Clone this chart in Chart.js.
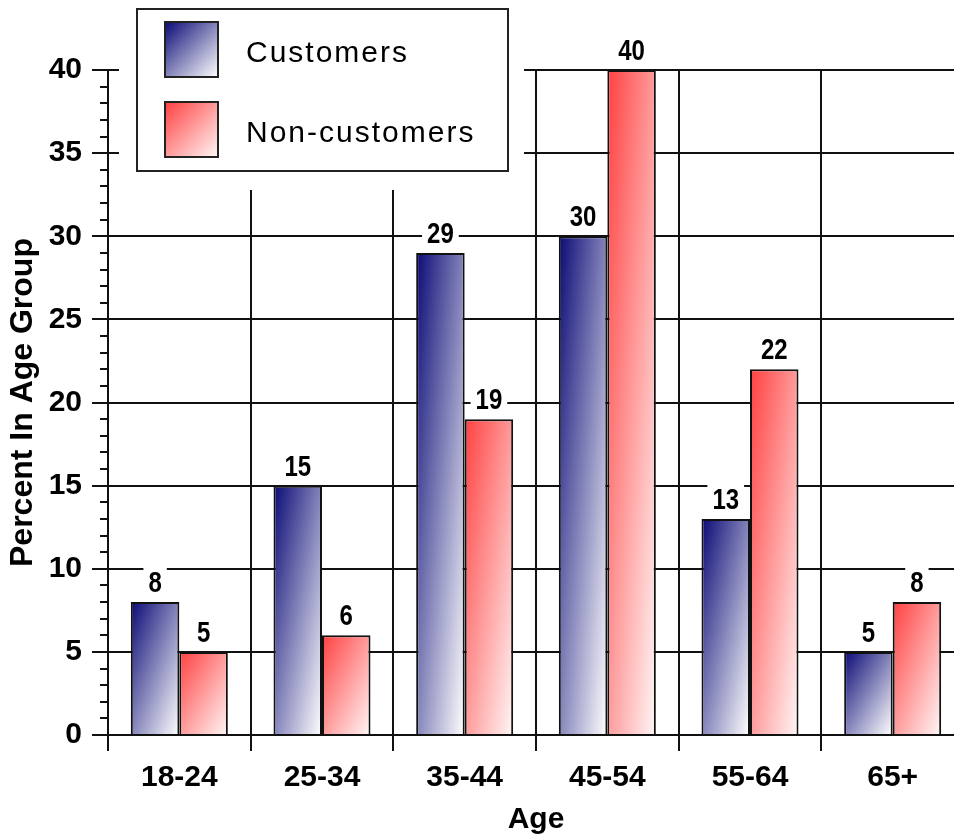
<!DOCTYPE html>
<html>
<head>
<meta charset="utf-8">
<script src="https://cdn.jsdelivr.net/npm/chart.js@4.4.1/dist/chart.umd.min.js"></script>
<style>
  html, body { margin: 0; padding: 0; background: #fff; overflow: hidden; }
  #wrap { width: 980px; height: 838px; }
</style>
</head>
<body>
<div id="wrap"><canvas id="ageChart" width="980" height="838"></canvas></div>
<script>
// data
const ageGroups = ['18-24', '25-34', '35-44', '45-54', '55-64', '65+'];
const customers = [8, 15, 29, 30, 13, 5];
const nonCustomers = [5, 6, 19, 40, 22, 8];
const yTicks = [0, 5, 10, 15, 20, 25, 30, 35, 40];

const BLUE = ['#0a0a76', '#ffffff'];
const RED = ['#ff4040', '#fff6f6'];

// diagonal gradient: dark at top-left corner, light at bottom-right,
// the other two corners sit at the midpoint
function diagGradient(c, x0, y0, w, h, cols) {
  const k = 2 * w * h / (w * w + h * h);
  const g = c.createLinearGradient(x0, y0, x0 + k * h, y0 + k * w);
  g.addColorStop(0, cols[0]);
  g.addColorStop(1, cols[1]);
  return g;
}

function barFill(cols) {
  return ctx => {
    const el = ctx.element;
    if (!el || el.width == null || isNaN(el.y) || isNaN(el.base)) return cols[0];
    const top = Math.min(el.y, el.base);
    const h = Math.abs(el.base - el.y) || 1;
    return diagGradient(ctx.chart.ctx, el.x - el.width / 2, top, el.width, h, cols);
  };
}

// minor ticks on the value axis
const minorTicks = {
  id: 'minorTicks',
  afterDraw(chart) {
    const c = chart.ctx, y = chart.scales.y, left = chart.chartArea.left;
    c.save();
    c.strokeStyle = '#111';
    c.lineWidth = 2;
    for (let v = y.min; v <= y.max; v++) {
      if (v % 5 === 0) continue;
      const py = Math.round(y.getPixelForValue(v));
      c.beginPath();
      c.moveTo(left - 8, py);
      c.lineTo(left, py);
      c.stroke();
    }
    c.restore();
  }
};

// value labels on white boxes above the bars (condensed bold)
const valueLabels = {
  id: 'valueLabels',
  afterDatasetsDraw(chart) {
    const c = chart.ctx;
    const squeeze = 0.8;
    c.save();
    c.font = 'bold 30px "Liberation Sans", Arial, sans-serif';
    c.textAlign = 'center';
    c.textBaseline = 'alphabetic';
    chart.data.datasets.forEach((ds, i) => {
      chart.getDatasetMeta(i).data.forEach((bar, j) => {
        const txt = String(ds.data[j]);
        const w = c.measureText(txt).width * squeeze;
        const base = bar.y - 10;
        c.fillStyle = '#fff';
        c.fillRect(bar.x - w / 2 - 5, base - 26, w + 10, 28);
        c.save();
        c.translate(bar.x, base);
        c.scale(squeeze, 1);
        c.fillStyle = '#000';
        c.fillText(txt, 0, 0);
        c.restore();
      });
    });
    c.restore();
  }
};

// boxed legend in the top-left corner
const boxLegend = {
  id: 'boxLegend',
  afterDraw(chart) {
    const c = chart.ctx;
    c.save();
    c.fillStyle = '#fff';
    c.fillRect(119, 0, 405, 190);
    c.lineWidth = 2;
    c.strokeStyle = '#222';
    c.strokeRect(137, 9, 371, 162);
    const items = [
      { text: chart.data.datasets[0].label, cols: BLUE, y: 22 },
      { text: chart.data.datasets[1].label, cols: RED, y: 102 }
    ];
    c.font = '30px "Liberation Sans", Arial, sans-serif';
    c.letterSpacing = '2px';
    c.textBaseline = 'alphabetic';
    items.forEach(it => {
      c.fillStyle = diagGradient(c, 165, it.y, 53, 55, it.cols);
      c.fillRect(165, it.y, 53, 55);
      c.strokeRect(165, it.y, 53, 55);
      c.fillStyle = '#000';
      c.fillText(it.text, 246, it.y + 40);
    });
    c.restore();
  }
};

const chart = new Chart(document.getElementById('ageChart'), {
  type: 'bar',
  data: {
    labels: ageGroups,
    datasets: [
      {
        label: 'Customers',
        data: customers,
        backgroundColor: barFill(BLUE),
        borderColor: '#111',
        borderWidth: 2
      },
      {
        label: 'Non-customers',
        data: nonCustomers,
        backgroundColor: barFill(RED),
        borderColor: '#111',
        borderWidth: 2
      }
    ]
  },
  options: {
    responsive: false,
    animation: false,
    categoryPercentage: 0.68,
    barPercentage: 1.0,
    layout: { padding: { top: 70, right: 16, left: 0, bottom: 0 } },
    plugins: { legend: { display: false }, tooltip: { enabled: false } },
    scales: {
      x: {
        afterFit: s => { s.height = 103; },
        border: { color: '#111', width: 2 },
        grid: { offset: true, color: '#111', lineWidth: 2, tickLength: 16 },
        ticks: { color: '#000', font: { size: 30, weight: 'bold', family: 'Liberation Sans' }, padding: 9 },
        title: {
          display: true, text: 'Age', color: '#000',
          font: { size: 30, weight: 'bold', family: 'Liberation Sans' },
          padding: { top: 0, bottom: 0 }
        }
      },
      y: {
        min: 0,
        max: 40,
        afterBuildTicks: s => { s.ticks = yTicks.map(v => ({ value: v })); },
        afterFit: s => { s.width = 108; },
        border: { color: '#111', width: 2 },
        grid: { color: '#111', lineWidth: 2, tickLength: 16 },
        ticks: { color: '#000', font: { size: 30, weight: 'bold', family: 'Liberation Sans' }, padding: 10 },
        title: {
          display: true, text: 'Percent In Age Group', color: '#000',
          font: { size: 32, weight: 'bold', family: 'Liberation Sans' },
          padding: { top: 4, bottom: 0 }
        }
      }
    }
  },
  plugins: [minorTicks, valueLabels, boxLegend]
});
// second pass so the gradients can use the bar geometry
chart.update('none');
</script>
</body>
</html>
